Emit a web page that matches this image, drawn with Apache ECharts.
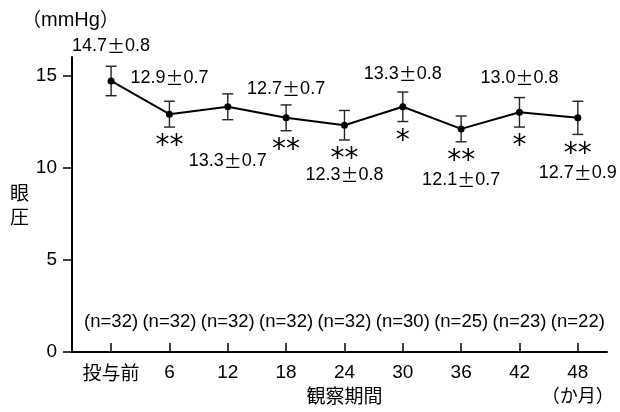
<!DOCTYPE html>
<html>
<head>
<meta charset="utf-8">
<script src="https://cdn.jsdelivr.net/npm/echarts@6/dist/echarts.min.js"></script>
<style>
  html, body { margin: 0; padding: 0; background: #fff; }
  #chart { width: 620px; height: 412px; }
</style>
</head>
<body>
<div id="chart"></div>
<script>
// Observation periods (months) and intraocular pressure summary
const categories = ['投与前', '6', '12', '18', '24', '30', '36', '42', '48'];
const means = [14.7, 12.9, 13.3, 12.7, 12.3, 13.3, 12.1, 13.0, 12.7];
const sds = [0.8, 0.7, 0.7, 0.7, 0.8, 0.8, 0.7, 0.8, 0.9];
const significance = ['', '**', '', '**', '**', '*', '**', '*', '**'];
const sampleSizes = [32, 32, 32, 32, 32, 30, 25, 23, 22];
const yTicks = [0, 5, 10, 15];

// Vertical placement of each "mean±SD" label relative to its point (px)
const labelDy = [-35, -36, 54, -29, 50, -33, 51, -34, 55];

const LATIN = 'Arial, "Liberation Sans", Helvetica, sans-serif';
const CJK = '"Noto Sans CJK JP", sans-serif';

const chart = echarts.init(document.getElementById('chart'), null, { renderer: 'canvas' });

const idx = categories.map((_, i) => i);

const option = {
  animation: false,
  backgroundColor: '#fff',
  grid: { left: 72, right: 13, top: 57, bottom: 60, containLabel: false, outerBoundsMode: 'none' },
  xAxis: {
    type: 'value',
    min: -0.67,
    max: 8.5,
    name: '観察期間',
    nameLocation: 'middle',
    nameGap: 34,
    nameMoveOverlap: false,
    nameTextStyle: { fontFamily: CJK, fontSize: 19, color: '#000', padding: [0, 0, 0, 10] },
    axisLine: { show: true, onZero: false, lineStyle: { color: '#000', width: 2 } },
    axisTick: { show: true, inside: true, length: 9, customValues: idx, lineStyle: { color: '#000', width: 1.5 } },
    splitLine: { show: false },
    axisLabel: {
      customValues: idx,
      margin: 11,
      color: '#000',
      fontFamily: LATIN,
      fontSize: 19,
      formatter: function (v) {
        const i = Math.round(v);
        const c = categories[i];
        if (i === 0) return '{cjk|' + c + '}';
        if (i === categories.length - 1) return c + '\n{unit|（か月）}';
        return c;
      },
      rich: {
        cjk: { fontFamily: CJK, fontSize: 19, color: '#000' },
        unit: { fontFamily: CJK, fontSize: 18, color: '#000', lineHeight: 26 }
      }
    }
  },
  yAxis: {
    type: 'value',
    min: 0,
    max: 16,
    name: '眼\n圧',
    nameLocation: 'middle',
    nameRotate: 0,
    nameGap: 43,
    nameMoveOverlap: false,
    nameTextStyle: { fontFamily: CJK, fontSize: 19, color: '#000', lineHeight: 24 },
    axisLine: { show: true, onZero: false, lineStyle: { color: '#000', width: 2 } },
    axisTick: { show: true, inside: false, length: 9, customValues: yTicks, lineStyle: { color: '#000', width: 1.5 } },
    splitLine: { show: false },
    axisLabel: {
      customValues: yTicks,
      margin: 15,
      color: '#000',
      fontFamily: LATIN,
      fontSize: 19
    }
  },
  graphic: [
    {
      type: 'text',
      left: 22,
      top: 10,
      style: {
        text: '{p|（}{u|mmHg}{p|）}',
        rich: {
          p: { fontFamily: CJK, fontSize: 19, fill: '#000' },
          u: { fontFamily: LATIN, fontSize: 20, fill: '#000' }
        }
      }
    }
  ],
  series: [
    {
      // error bars, value labels, significance marks, sample sizes
      type: 'custom',
      data: idx.map(i => [i, means[i], sds[i]]),
      z: 3,
      renderItem: function (params, api) {
        const i = api.value(0);
        const m = api.value(1);
        const s = api.value(2);
        const p = api.coord([i, m]);
        const top = api.coord([i, m + s]);
        const bot = api.coord([i, m - s]);
        const base = api.coord([i, 0]);
        const cap = 5.5;
        const lineStyle = { stroke: '#222', lineWidth: 1.4 };
        const children = [
          { type: 'line', shape: { x1: p[0], y1: top[1], x2: p[0], y2: bot[1] }, style: lineStyle },
          { type: 'line', shape: { x1: p[0] - cap, y1: top[1], x2: p[0] + cap, y2: top[1] }, style: lineStyle },
          { type: 'line', shape: { x1: p[0] - cap, y1: bot[1], x2: p[0] + cap, y2: bot[1] }, style: lineStyle },
          {
            type: 'text',
            x: p[0],
            y: p[1] + labelDy[i],
            style: {
              text: '{n|' + m.toFixed(1) + '}{pm|±}{n|' + s.toFixed(1) + '}',
              align: 'center',
              verticalAlign: 'middle',
              rich: {
                n: { fontFamily: LATIN, fontSize: 18, fill: '#000' },
                pm: { fontFamily: CJK, fontSize: 18, fill: '#000' }
              }
            }
          },
          {
            type: 'text',
            x: p[0],
            y: base[1] - 30,
            style: {
              text: '(n=' + sampleSizes[i] + ')',
              align: 'center',
              verticalAlign: 'middle',
              fontFamily: LATIN,
              fontSize: 18.5,
              fill: '#000'
            }
          }
        ];
        if (significance[i]) {
          children.push({
            type: 'text',
            x: p[0],
            y: bot[1] + 20,
            style: {
              text: significance[i],
              align: 'center',
              verticalAlign: 'middle',
              fontFamily: '"DejaVu Sans", sans-serif',
              fontSize: 28,
              fill: '#000'
            }
          });
        }
        return { type: 'group', children: children };
      }
    },
    {
      type: 'line',
      data: idx.map(i => [i, means[i]]),
      symbol: 'circle',
      symbolSize: 7,
      itemStyle: { color: '#000' },
      lineStyle: { color: '#000', width: 2 },
      z: 4
    }
  ]
};

chart.setOption(option);
</script>
</body>
</html>
